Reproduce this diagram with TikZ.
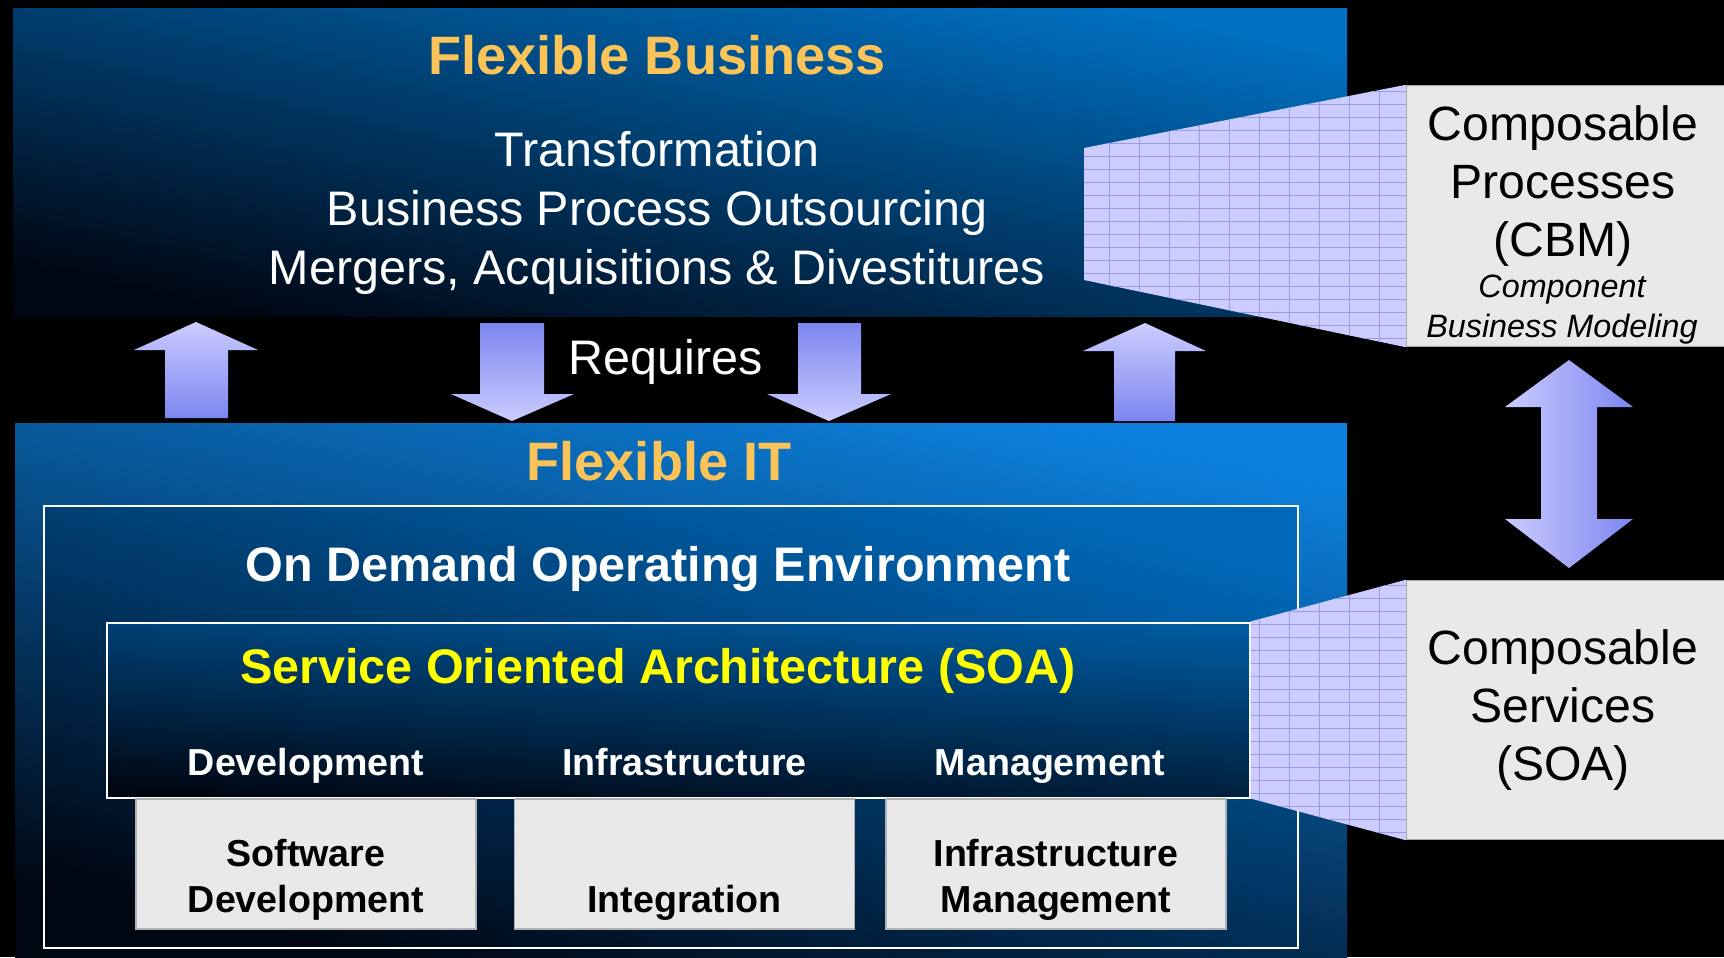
\documentclass[tikz,border=0pt]{standalone}
\usepackage{fontspec}
\setmainfont{Liberation Sans}
\usetikzlibrary{positioning,calc}

\definecolor{deepnavy}{RGB}{0,6,18}
\definecolor{bizblue}{RGB}{0,112,194}
\definecolor{itblue}{RGB}{12,128,220}
\definecolor{envblue}{RGB}{0,104,184}
\definecolor{soablue}{RGB}{0,90,160}
\definecolor{titleorange}{RGB}{250,196,88}
\definecolor{soayellow}{RGB}{255,255,0}
\definecolor{tilegray}{RGB}{233,233,233}
\definecolor{lavender}{RGB}{204,204,255}
\definecolor{periwinkle}{RGB}{124,134,240}
\definecolor{gridline}{RGB}{155,155,225}

\begin{document}
\begin{tikzpicture}[
    x=0.1mm, y=-0.1mm,
    layer/.style={rectangle, inner sep=0pt, bottom color=deepnavy, top color=#1, shading angle=-12},
    frame/.style={rectangle, draw=white, line width=0.2mm, inner sep=0pt, bottom color=deepnavy, top color=#1, shading angle=-15},
    tile/.style={rectangle, fill=tilegray, draw=gray!60, inner sep=0pt, minimum width=34mm, minimum height=13mm},
    side/.style={rectangle, fill=tilegray, draw=gray!70, inner sep=0pt, minimum width=32.5mm},
    title/.style={text=titleorange, font=\bfseries\fontsize{15.4pt}{18pt}\selectfont},
    label/.style={text=white, align=center, font=\fontsize{13.8pt}{16.8pt}\selectfont},
    heading/.style={font=\bfseries\fontsize{13.8pt}{16pt}\selectfont},
    small/.style={align=center, font=\bfseries\fontsize{10.7pt}{13.1pt}\selectfont},
    column/.style={small, text=white, text height=0.75em, text depth=0.25em},
    sidetext/.style={align=center, font=\fontsize{13.7pt}{16.6pt}\selectfont},
    uparrow/.style={top color=lavender, bottom color=periwinkle},
    downarrow/.style={top color=periwinkle, bottom color=lavender},
    grid patch/.style={gridline, line width=0.1mm, xstep=3mm, ystep=1.3mm}
]
\useasboundingbox (0,0) rectangle (1724,957);
\fill[black] (0,0) rectangle (1724,957);

% Flexible Business layer (top)
\node[layer=bizblue, minimum width=133.4mm, minimum height=30.8mm] (business) at (680,162) {};
\node[title] (biztitle) at (657,55) {Flexible Business};
\node[label] (bizitems) at (657,213) {Transformation\\Business Process Outsourcing\\Mergers, Acquisitions \& Divestitures};

% Flexible IT layer (bottom)
\node[layer=itblue, minimum width=133.2mm, minimum height=53.4mm] (it) at (681,690) {};
\node[title] (ittitle) at (659,461) {Flexible IT};

% On Demand Operating Environment
\node[frame=envblue, minimum width=125.4mm, minimum height=44.2mm] (odoe) at (671,727) {};
\node[heading, text=white] (odoetitle) at (658,569) {On Demand Operating Environment};

% Service Oriented Architecture
\node[frame=soablue, shading angle=-4, minimum width=114.3mm, minimum height=17.5mm] (soa) at (678,710) {};
\node[heading, text=soayellow] (soatitle) at (658,671) {Service Oriented Architecture (SOA)};

% Tiles under the SOA
\node[tile] (swdev) at (306,864) {};
\node[tile, right=3.7mm of swdev] (integ) {};
\node[tile, right=3.0mm of integ] (infmgmt) {};

\node[column] (devlabel) at ($(swdev.north)+(0,-32)$) {Development};
\node[column] (infralabel) at ($(integ.north)+(0,-32)$) {Infrastructure};
\node[column] (mgmtlabel) at ($(infmgmt.north)+(-6,-32)$) {Management};

\node[small] (swdevtext) at ($(swdev)+(0,16)$) {Software\\Development};
\node[small] (integtext) at ($(integ)+(0,39)$) {Integration};
\node[small] (infmgmttext) at ($(infmgmt)+(0,16)$) {Infrastructure\\Management};

% Composable boxes (right)
\node[side, minimum height=26.1mm] (cbm) at (1569,216) {};
\node[side, minimum height=25.9mm] (soaside) at (1569,710) {};

\node[sidetext] (cbmtext) at (1563,186) {Composable\\Processes\\(CBM)};
\node[align=center, font=\itshape\fontsize{9.2pt}{11.4pt}\selectfont] (cbmnote) at (1562,310) {Component\\Business Modeling};
\node[sidetext] (soasidetext) at (1563,710) {Composable\\Services\\(SOA)};

% Zoom patches
\coordinate (fanTL) at (1084,148);
\coordinate (fanBL) at (1084,280);
\begin{scope}
  \clip (fanTL) -- (cbm.north west) -- (cbm.south west) -- (fanBL) -- cycle;
  \fill[lavender] (1070,70) rectangle (1420,360);
  \draw[grid patch] (1070,70) grid (1420,360);
\end{scope}
\begin{scope}
  \clip (soa.north east) -- (soaside.north west) -- (soaside.south west) -- (soa.south east) -- cycle;
  \fill[lavender] (1240,570) rectangle (1420,850);
  \draw[grid patch] (1240,570) grid (1420,850);
\end{scope}

% Requires arrows
\shade[uparrow] (165,418) -- (165,350) -- (134,350) -- (196,322) -- (258,350) -- (228,350) -- (228,418) -- cycle;
\shade[downarrow] (480,323) -- (544,323) -- (544,394) -- (574,394) -- (512,421) -- (451,394) -- (480,394) -- cycle;
\shade[downarrow] (798,323) -- (861,323) -- (861,394) -- (891,394) -- (829,421) -- (767,394) -- (798,394) -- cycle;
\shade[uparrow] (1114,421) -- (1114,351) -- (1083,351) -- (1145,323) -- (1206,351) -- (1175,351) -- (1175,421) -- cycle;
\node[label] (requires) at (666,362) {Requires};

% Processes <-> Services
\shade[left color=lavender, right color=periwinkle] (1569,360) -- (1633,407) -- (1597,407) -- (1597,519) -- (1633,519) -- (1569,568) -- (1505,519) -- (1541,519) -- (1541,407) -- (1505,407) -- cycle;

\end{tikzpicture}
\end{document}
